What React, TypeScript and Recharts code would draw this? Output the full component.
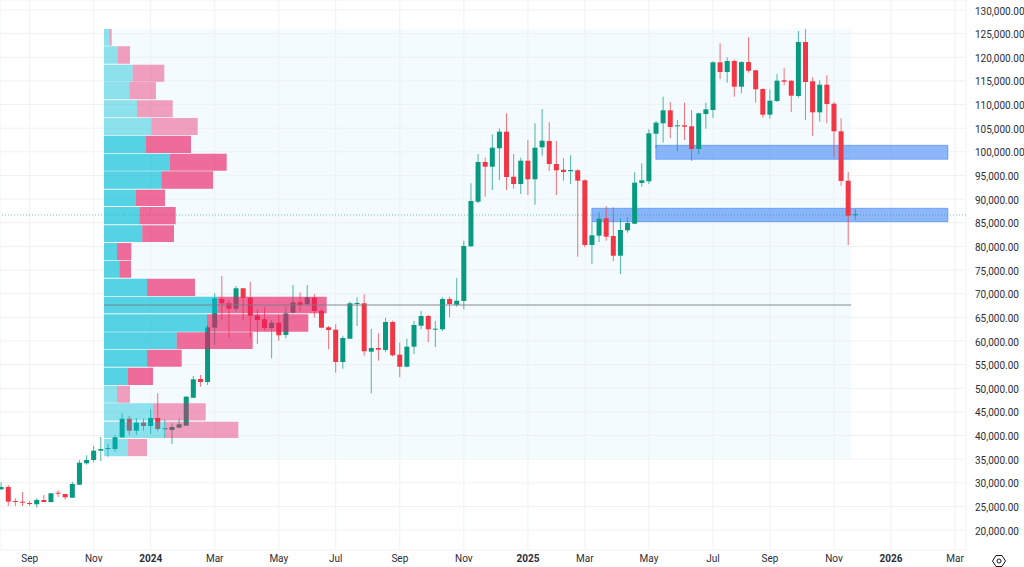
import { ComposedChart, Bar, XAxis, YAxis, CartesianGrid, ReferenceArea, ReferenceLine } from "recharts";

// weekly candles, oldest first
const opens = [28630, 29115, 26154, 26005, 25730, 25455, 26365, 25942, 27905, 27634, 26851, 29601, 34127, 34825, 36793, 37300, 37151, 39625, 43561, 41022, 42715, 42016, 43708, 41384, 41170, 41658, 42080, 47985, 51956, 51322, 62808, 68877, 67970, 66825, 71140, 69153, 65428, 64580, 62743, 63860, 61263, 65979, 68179, 67755, 69153, 66400, 62889, 62390, 55552, 60480, 67820, 67970, 57735, 58513, 58090, 64012, 57100, 54555, 58790, 63230, 65280, 62390, 62470, 68877, 67670, 68455, 80020, 89455, 97852, 96860, 100750, 104260, 94740, 93200, 98130, 94190, 100960, 102295, 97430, 96220, 95890, 96095, 93980, 80300, 82265, 85950, 82200, 78030, 83410, 84800, 93410, 93770, 103830, 106040, 108785, 105400, 105610, 105400, 100600, 108000, 108850, 118940, 116885, 119215, 113780, 118990, 117250, 113290, 107860, 110755, 115130, 115050, 111810, 123232, 114920, 108360, 114200, 110180, 104345, 93900, 86700];
const highs = [30110, 29538, 26725, 28057, 26215, 26725, 27422, 27840, 28415, 27634, 30236, 34825, 35820, 37786, 39690, 38209, 40113, 44700, 44131, 43708, 43561, 45548, 48933, 43430, 42588, 43561, 48362, 52591, 52803, 63377, 70082, 73740, 68665, 71626, 71203, 72534, 66700, 67120, 64435, 65493, 67240, 71838, 70293, 71838, 69934, 66910, 63166, 63530, 61110, 68307, 69238, 69869, 62530, 61620, 64860, 64290, 59635, 60480, 64220, 66340, 65493, 64220, 69238, 69360, 73318, 81205, 93345, 99544, 98760, 103710, 104980, 108152, 99544, 98760, 102505, 106040, 109060, 106250, 102295, 98635, 99270, 96310, 94190, 85100, 87215, 88546, 88270, 85945, 86155, 95670, 97580, 104770, 106520, 111660, 110540, 106735, 110395, 108850, 108280, 110395, 119150, 122950, 120000, 119575, 119150, 124225, 117290, 113440, 113145, 116465, 117735, 115130, 125560, 125980, 115765, 115130, 116190, 110540, 107095, 95740, 87910];
const lows = [28480, 25096, 25096, 25096, 25096, 24735, 25880, 25790, 27000, 26430, 26788, 29538, 33829, 34340, 34614, 35525, 36576, 39540, 40050, 40113, 41022, 40324, 40958, 39477, 38209, 41658, 42080, 47940, 50325, 50688, 59148, 64435, 60562, 66063, 64435, 60562, 59360, 62170, 56335, 60058, 60562, 65800, 66190, 67500, 64920, 62700, 58238, 53290, 54135, 60400, 63166, 56885, 48930, 55826, 57605, 56750, 52320, 54430, 57245, 62470, 59718, 58724, 62100, 65005, 67240, 66695, 79900, 89120, 90510, 91930, 94045, 91930, 92200, 91085, 90870, 88820, 99185, 95950, 90870, 93895, 93200, 77825, 79810, 76280, 80930, 81205, 76900, 74165, 82900, 84700, 92630, 93200, 100800, 101930, 102860, 100115, 102505, 98060, 99480, 104900, 107220, 115400, 114625, 111660, 112380, 116740, 110395, 107220, 107010, 110540, 114075, 108425, 111450, 106735, 103350, 106375, 106035, 98845, 92840, 80300, 85585];
const closes = [29115, 26005, 25942, 25880, 25580, 26365, 25942, 27782, 27695, 26935, 29749, 34254, 34825, 36793, 37151, 37363, 39625, 43561, 41022, 42715, 42016, 43708, 41384, 41530, 41804, 42376, 48214, 51892, 51322, 62889, 69025, 67970, 66825, 71140, 69153, 65344, 64435, 62743, 63860, 61199, 65854, 68179, 67607, 69238, 66335, 62808, 62320, 55552, 60628, 67970, 68030, 57817, 58513, 58155, 64012, 56970, 54555, 58790, 63377, 65280, 62470, 62600, 68877, 67819, 68518, 80086, 89603, 97852, 96860, 100875, 104260, 94680, 93200, 98130, 94190, 100875, 102360, 97430, 96095, 95735, 96160, 93900, 80300, 82350, 85860, 82050, 78030, 83470, 84950, 93475, 93980, 103920, 106165, 108785, 105255, 105610, 105320, 100600, 108150, 108995, 118940, 116885, 119215, 113780, 118990, 117160, 113230, 107860, 110820, 115050, 114835, 111875, 123232, 114770, 108360, 114200, 110120, 104345, 93835, 86495, 86800];

const monthTicks = [4, 13, 21, 30, 39, 47, 56, 65, 74, 82, 91, 100, 108, 117, 125, 134];
const monthLabels = ["Sep", "Nov", "2024", "Mar", "May", "Jul", "Sep", "Nov", "2025", "Mar", "May", "Jul", "Sep", "Nov", "2026", "Mar"];
const priceTicks = [20000, 25000, 30000, 35000, 40000, 45000, 50000, 55000, 60000, 65000, 70000, 75000, 80000, 85000, 90000, 95000, 100000, 105000, 110000, 115000, 120000, 125000, 130000];

// volume profile rows, top to bottom
const rowHigh = [125982, 122323, 118431, 114772, 110901, 107158, 103415, 99608, 95885, 91993, 88335, 84466, 80720, 76977, 73170, 69363, 65642, 61834, 58155, 54350, 50540, 46805, 42925, 39267];
const rowLow = [122449, 118643, 114836, 111113, 107306, 103563, 99756, 96012, 92205, 88546, 84676, 80932, 77125, 73380, 69511, 65855, 61960, 58300, 54560, 50687, 46940, 43185, 39477, 35640];
const buyVolume = [5.3, 14, 28.7, 25.3, 33, 47.3, 42, 65.7, 57.3, 32, 35.3, 38.3, 13, 15.3, 43, 114, 103, 72.7, 43, 23.7, 13, 49, 61.7, 23.7];
const sellVolume = [2.4, 12, 31.6, 26.7, 35.7, 46.4, 45, 57, 51.7, 29, 36.4, 31.7, 14.3, 11.7, 48, 108.7, 101.3, 76, 34.7, 25.3, 13, 52.7, 72.6, 19.3];
const valueAreaFirst = 6;
const valueAreaLast = 19;

const profileStart = 14.44;
const profileEnd = 119.4;
const profileTop = 126050;
const profileBottom = 35300;
const volumePerWeek = 7.118; // profile width units per candle slot
const pocPrice = 67608;
const lastPrice = 86642;

const zones = [
  { from: 91.96, y1: 98423, y2: 101385 },
  { from: 82.97, y1: 85227, y2: 88060 },
];
const zoneEnd = 133;

const candles = opens.map((open, i) => ({
  i,
  open,
  close: closes[i],
  high: highs[i],
  low: lows[i],
  range: [lows[i], highs[i]],
}));

const GREEN = "#089981";
const RED = "#f23645";

const volX = (v: number) => profileStart + v / volumePerWeek;

function Candle(props: any) {
  const { x, y, width, height, payload } = props;
  const { open, close, high, low } = payload;
  const color = close >= open ? GREEN : RED;
  const perPrice = height / (high - low);
  const top = y + (high - Math.max(open, close)) * perPrice;
  const bottom = y + (high - Math.min(open, close)) * perPrice;
  const mid = x + width / 2;
  return (
    <g>
      <line x1={mid} x2={mid} y1={y} y2={y + height} stroke={color} strokeWidth={1} strokeOpacity={0.7} />
      <rect x={x} y={top} width={width} height={Math.max(bottom - top, 1)} fill={color} />
    </g>
  );
}

function MonthTick(props: any) {
  const { x, y, payload } = props;
  const label = monthLabels[monthTicks.indexOf(payload.value)];
  const isYear = /^\d+$/.test(label);
  return (
    <text x={x} y={y} textAnchor="middle" dominantBaseline="central" fontSize={10} fontFamily="Roboto" fontWeight={isYear ? 700 : 400} fill="#2a2e39">
      {label}
    </text>
  );
}

export default function App() {
  return (
    <div style={{ position: "absolute", left: 0, top: 0, width: 1024, height: 567, background: "#fff" }}>
      <ComposedChart width={1024} height={567} data={candles} margin={{ top: 0, right: 0, bottom: 0, left: 0 }}>
        <XAxis
          dataKey="i"
          type="number"
          domain={[-0.169, 135.54]}
          allowDataOverflow
          ticks={monthTicks}
          interval={0}
          height={17}
          axisLine={false}
          tickLine={false}
          tick={<MonthTick />}
        />
        <YAxis
          orientation="right"
          type="number"
          domain={[15787, 132115]}
          allowDataOverflow
          ticks={priceTicks}
          interval={0}
          width={58}
          axisLine={false}
          tickLine={false}
          tickMargin={3}
          dy={1}
          tick={{ fontSize: 10, fontFamily: "Roboto", fill: "#2a2e39" }}
          tickFormatter={(v: number) => v.toLocaleString("en-US", { minimumFractionDigits: 2 })}
        />
        <ReferenceArea x1={profileStart} x2={profileEnd} y1={profileBottom} y2={profileTop} fill="#f3fbfe" fillOpacity={1} stroke="none" zIndex={-200} />
        <CartesianGrid stroke="#eff1f3" strokeWidth={1} />
        {zones.map((z, n) => (
          <ReferenceArea key={n} x1={z.from} x2={zoneEnd} y1={z.y1} y2={z.y2} fill="#1e6ff5" fillOpacity={0.5} stroke="#1e6ff5" strokeOpacity={0.45} strokeWidth={1} zIndex={200} />
        ))}
        <ReferenceLine y={lastPrice} stroke={GREEN} strokeOpacity={0.55} strokeDasharray="1 2" zIndex={210} />
        <Bar dataKey="range" barSize={5} isAnimationActive={false} shape={<Candle />} zIndex={300} />
        {rowHigh.map((hi, n) => {
          const strong = n >= valueAreaFirst && n <= valueAreaLast;
          return [
            <ReferenceArea key={`b${n}`} x1={volX(0)} x2={volX(buyVolume[n])} y1={rowLow[n]} y2={hi} fill="#00bcd4" fillOpacity={strong ? 0.65 : 0.42} stroke="none" zIndex={400} />,
            <ReferenceArea key={`s${n}`} x1={volX(buyVolume[n])} x2={volX(buyVolume[n] + sellVolume[n])} y1={rowLow[n]} y2={hi} fill="#e91e63" fillOpacity={strong ? 0.65 : 0.42} stroke="none" zIndex={400} />,
          ];
        })}
        <ReferenceLine
          segment={[{ x: profileStart, y: pocPrice }, { x: profileEnd, y: pocPrice }]}
          stroke="#787b86"
          strokeOpacity={0.6}
          strokeWidth={1.5}
          zIndex={420}
        />
      </ComposedChart>
      <svg width={16} height={16} viewBox="0 0 16 16" style={{ position: "absolute", left: 991, top: 553 }}>
        <path d="M5 2.5h6l3.5 5.5L11 13.5H5L1.5 8z" fill="none" stroke="#131722" strokeWidth={1} strokeLinejoin="round" />
        <circle cx={8} cy={8} r={2} fill="none" stroke="#131722" strokeWidth={1} />
      </svg>
    </div>
  );
}
